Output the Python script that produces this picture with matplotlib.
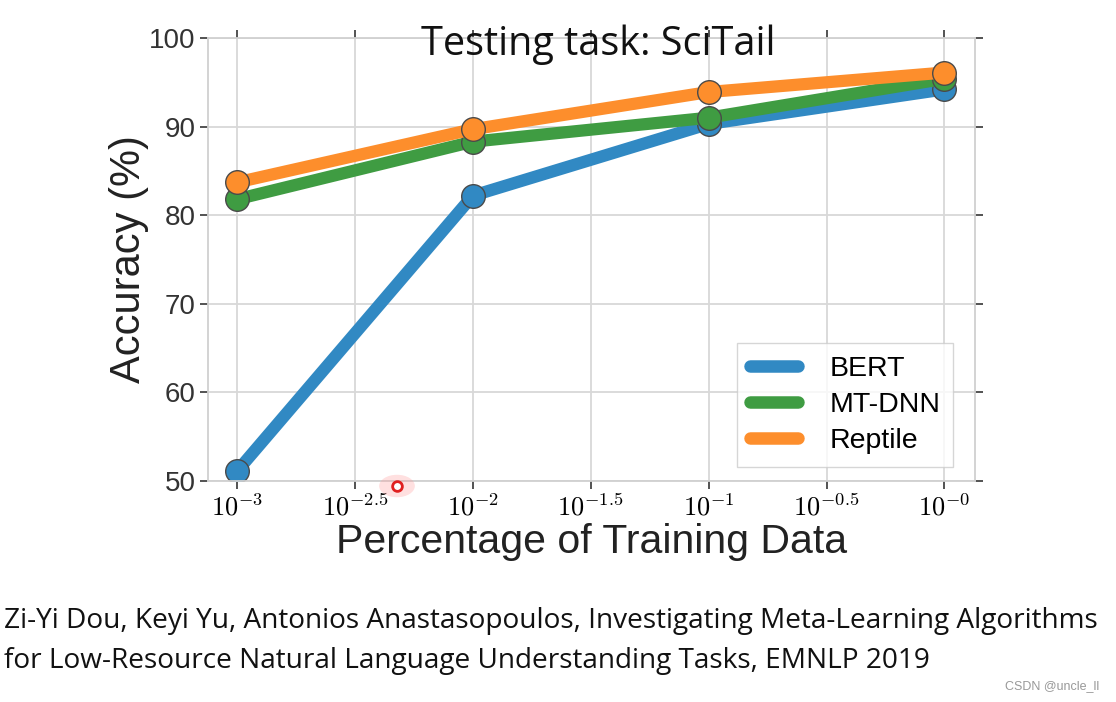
import numpy as np
import matplotlib.pyplot as plt

# data
fractions = [1e-3, 1e-2, 1e-1, 1e0]
bert = [51.1, 82.2, 90.3, 94.2]
mtdnn = [81.8, 88.3, 91.0, 95.4]
reptile = [83.7, 89.7, 93.9, 96.1]
series_names = ["BERT", "MT-DNN", "Reptile"]
xtick_pos = [-3, -2.5, -2, -1.5, -1, -0.5, 0]
xtick_labels = [r"$10^{-3}$", r"$10^{-2.5}$", r"$10^{-2}$", r"$10^{-1.5}$",
                r"$10^{-1}$", r"$10^{-0.5}$", r"$10^{-0}$"]
yticks = [50, 60, 70, 80, 90, 100]

plt.rcParams["mathtext.fontset"] = "cm"
plt.rcParams["font.family"] = ["Liberation Sans", "DejaVu Sans"]

fig = plt.figure(figsize=(11.16, 7.02), dpi=100)
ax = fig.add_axes([0.1864, 0.3148, 0.6873, 0.6311])

colors = ["#3189c3", "#3f9c42", "#fd8e2c"]
for vals, name, c in zip([bert, mtdnn, reptile], series_names, colors):
    ax.plot(np.log10(fractions), vals, color=c, lw=8.8, label=name,
            marker="o", ms=17, mfc=c, mec="#4a4a4a", mew=1.0,
            solid_capstyle="round")

ax.set_xlim(-3.123, 0.13)
ax.set_ylim(50, 100)
ax.set_xticks(xtick_pos)
ax.set_xticklabels(xtick_labels, fontsize=19)
ax.set_yticks(yticks)
ax.set_yticklabels([str(v) for v in yticks], fontsize=20, color="#333333")
ax.grid(True, color="#d8d8d8", lw=1.3)
ax.set_axisbelow(True)
for s in ax.spines.values():
    s.set_color("#d0d0d0")
    s.set_linewidth(1.3)
ax.tick_params(axis="both", which="both", direction="out", length=6,
               width=1.3, color="#444444", top=True, right=True,
               labeltop=False, labelright=False, pad=3)

ax.set_xlabel("Percentage of Training Data", fontsize=29.5, color="#222222",
              labelpad=2)
ax.set_ylabel("Accuracy (%)", fontsize=30, color="#222222", labelpad=0)

leg = ax.legend(loc="lower right", fontsize=20.5, frameon=True, fancybox=False,
                edgecolor="#cccccc", handlelength=1.7, markerscale=0,
                borderpad=0.45, labelspacing=0.35, handletextpad=1.1,
                bbox_to_anchor=(0.99, 0.0))
for h in leg.get_lines():
    h.set_marker("")
    h.set_linewidth(9)

fig.text(0.536, 0.936, "Testing task: SciTail", fontsize=28.5, ha="center",
         va="center", family=["Open Sans", "DejaVu Sans"], color="#111111")

fig.text(0.004, 0.115, "Zi-Yi Dou, Keyi Yu, Antonios Anastasopoulos, Investigating Meta-Learning Algorithms",
         fontsize=20.2, ha="left", va="center", family=["Open Sans", "DejaVu Sans"],
         color="#111111")
fig.text(0.004, 0.058, "for Low-Resource Natural Language Understanding Tasks, EMNLP 2019",
         fontsize=20.2, ha="left", va="center", family=["Open Sans", "DejaVu Sans"],
         color="#111111")
fig.text(0.985, 0.022, "CSDN @uncle_ll", fontsize=9, ha="right", va="center",
         color="#999999")

# cursor highlight from the screen capture
fig.patches.append(plt.Circle((397 / 1116, 1 - 486 / 702), 0.016,
                              transform=fig.transFigure, color="#ff9999",
                              alpha=0.3, lw=0))
fig.lines.append(plt.Line2D([397 / 1116], [1 - 486 / 702], marker="o", ms=7,
                            mfc="white", mec="#e02020", mew=2,
                            transform=fig.transFigure))

fig.savefig("out.png", dpi=100)
